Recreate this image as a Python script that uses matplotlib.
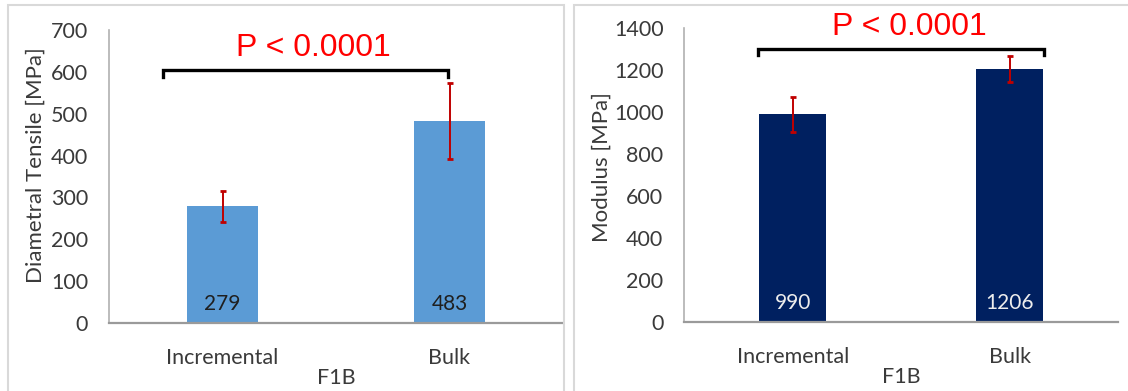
import matplotlib

matplotlib.use("Agg")
import matplotlib.pyplot as plt
import numpy as np
from matplotlib.patches import Rectangle

categories = ["Incremental", "Bulk"]
group_label = "F1B"

dts_mean = [279, 483]
dts_sd = [37, 90]

modulus_mean = [990, 1206]
modulus_sd = [82, 61]

p_text = "P < 0.0001"

TICK_FONT = "Lato"
TEXT_GREY = "#3A3A3A"


def bar_panel(ax, means, sds, color, label_color, ylabel, ymax, step,
              bracket_x, bracket_y, bracket_drop, p_xy, ylabel_xy):
    x = np.arange(len(categories))
    ax.bar(x, means, width=0.31, color=color, zorder=2)
    ax.errorbar(x, means, yerr=sds, fmt="none", ecolor="#C00000", elinewidth=1.4,
                capsize=2.5, capthick=2.0, zorder=3)
    for xi, m in zip(x, means):
        ax.annotate(f"{m}", (xi, 0), xytext=(0, 13.5), textcoords="offset points",
                    ha="center", va="center", fontsize=15, color=label_color,
                    family=TICK_FONT, zorder=4)

    # significance bracket
    x0, x1 = bracket_x
    ax.plot([x0, x0, x1, x1], [bracket_y - bracket_drop, bracket_y, bracket_y, bracket_y - bracket_drop],
            color="black", lw=2.4, solid_joinstyle="miter", clip_on=False, zorder=4)
    ax.text(p_xy[0], p_xy[1], p_text, color="#FF0000", fontsize=23, family="Liberation Sans",
            ha="center", va="center", clip_on=False)

    ax.set_xlim(-0.5, 1.5)
    ax.set_ylim(0, ymax)
    ax.set_yticks(np.arange(0, ymax + 1, step))
    ax.set_xticks(x)
    ax.set_xticklabels(categories)
    for lab in ax.get_xticklabels() + ax.get_yticklabels():
        lab.set_family(TICK_FONT)
        lab.set_fontsize(15.5)
        lab.set_color(TEXT_GREY)
    ax.tick_params(axis="y", length=0, pad=15)
    ax.tick_params(axis="x", length=0, pad=18)

    for side in ("top", "right"):
        ax.spines[side].set_visible(False)
    ax.spines["left"].set_color("#B0B0B0")
    ax.spines["left"].set_linewidth(1.2)
    ax.spines["bottom"].set_color("#9A9A9A")
    ax.spines["bottom"].set_linewidth(1.6)

    ax.set_ylabel(ylabel, family=TICK_FONT, fontsize=16, color=TEXT_GREY)
    ax.yaxis.set_label_coords(*ylabel_xy)
    ax.yaxis.label.set_va("center")
    ax.set_xlabel(group_label, family=TICK_FONT, fontsize=15.5, color=TEXT_GREY)
    ax.xaxis.set_label_coords(0.5, -0.188)
    ax.xaxis.label.set_va("center")


fig = plt.figure(figsize=(11.28, 3.91), dpi=100)

# light frames around each chart
fig.patches.append(Rectangle((8 / 1128, -0.05), 555.5 / 1128, 1.05 - 5 / 391,
                             transform=fig.transFigure, fill=False, ec="#D9D9D9", lw=1.5))
fig.patches.append(Rectangle((574 / 1128, -0.05), 0.6, 1.05 - 5 / 391,
                             transform=fig.transFigure, fill=False, ec="#D9D9D9", lw=1.5))

ax1 = fig.add_axes([109 / 1128, 68 / 391, 454 / 1128, 293 / 391])
ax2 = fig.add_axes([684.3 / 1128, 69 / 391, 433.7 / 1128, 293.7 / 391])

bar_panel(ax1, dts_mean, dts_sd, "#5B9BD5", "#1F1F1F", "Diametral Tensile [MPa]", 700, 100,
          bracket_x=(-0.26, 0.995), bracket_y=604, bracket_drop=16,
          p_xy=(0.40, 657), ylabel_xy=(-0.161, 0.5375))
bar_panel(ax2, modulus_mean, modulus_sd, "#002060", "#EDEDED", "Modulus [MPa]", 1400, 200,
          bracket_x=(-0.159, 1.161), bracket_y=1300, bracket_drop=27,
          p_xy=(0.538, 1404), ylabel_xy=(-0.19, 0.526))

fig.savefig("out.png", dpi=100)
